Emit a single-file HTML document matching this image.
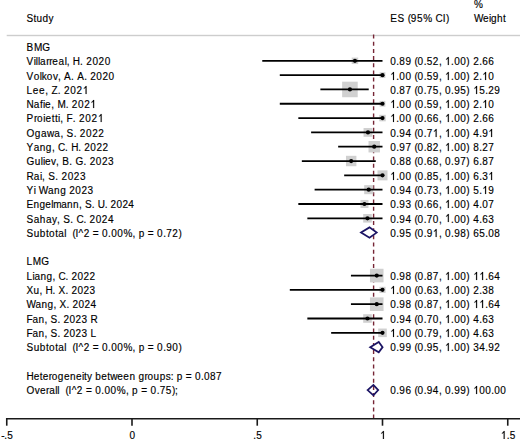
<!DOCTYPE html>
<html><head><meta charset="utf-8"><style>
html,body{margin:0;padding:0;background:#fff;}
svg{display:block;}
.t{font-family:"Liberation Sans",sans-serif;font-size:10.0px;fill:#000;white-space:pre;stroke:#000;stroke-width:0.15px;}
</style></head><body>
<svg width="520" height="439" viewBox="0 0 520 439">
<rect width="520" height="439" fill="#fff"/>
<text class="t" x="26.6 33.6 36.6 42.6 48.6" y="22.2">Study</text>
<text class="t" x="390.2 397.42 404.65 407.74 410.84 417.03 423.22 432.51 435.61 442.83 445.93" y="22.2">ES (95% CI)</text>
<text class="t" x="474.1" y="8.1">%</text>
<text class="t" x="474.1 483.1 489.1 491.1 497.1 503.1" y="22.2">Weight</text>
<rect x="6.7" y="34.8" width="514" height="1.4" fill="#cdcdcd"/>
<line x1="373.6" y1="34.6" x2="373.6" y2="418.5" stroke="#762535" stroke-width="1.4" stroke-dasharray="4 3.17"/>
<rect x="351.70" y="57.57" width="6.49" height="6.49" fill="#d0d0d0"/>
<rect x="379.62" y="72.25" width="5.77" height="5.77" fill="#d0d0d0"/>
<rect x="342.15" y="81.67" width="15.56" height="15.56" fill="#d0d0d0"/>
<rect x="379.62" y="100.88" width="5.77" height="5.77" fill="#d0d0d0"/>
<rect x="379.25" y="114.83" width="6.49" height="6.49" fill="#d0d0d0"/>
<rect x="363.56" y="127.99" width="8.82" height="8.82" fill="#d0d0d0"/>
<rect x="368.51" y="140.99" width="11.45" height="11.45" fill="#d0d0d0"/>
<rect x="345.97" y="155.81" width="10.43" height="10.43" fill="#d0d0d0"/>
<rect x="377.50" y="170.35" width="10.00" height="10.00" fill="#d0d0d0"/>
<rect x="364.19" y="185.13" width="9.07" height="9.07" fill="#d0d0d0"/>
<rect x="360.45" y="199.96" width="8.03" height="8.03" fill="#d0d0d0"/>
<rect x="363.19" y="214.01" width="8.56" height="8.56" fill="#d0d0d0"/>
<rect x="369.95" y="268.77" width="13.58" height="13.58" fill="#d0d0d0"/>
<rect x="379.43" y="286.80" width="6.14" height="6.14" fill="#d0d0d0"/>
<rect x="369.95" y="297.40" width="13.58" height="13.58" fill="#d0d0d0"/>
<rect x="363.19" y="314.22" width="8.56" height="8.56" fill="#d0d0d0"/>
<rect x="378.22" y="328.54" width="8.56" height="8.56" fill="#d0d0d0"/>
<line x1="262.26" y1="60.82" x2="382.50" y2="60.82" stroke="#000" stroke-width="1.8"/>
<circle cx="354.94" cy="60.82" r="2.1" fill="#000"/>
<line x1="279.79" y1="75.13" x2="382.50" y2="75.13" stroke="#000" stroke-width="1.8"/>
<circle cx="382.50" cy="75.13" r="2.1" fill="#000"/>
<line x1="320.38" y1="89.45" x2="368.72" y2="89.45" stroke="#000" stroke-width="1.8"/>
<circle cx="349.94" cy="89.45" r="2.1" fill="#000"/>
<line x1="279.79" y1="103.76" x2="382.50" y2="103.76" stroke="#000" stroke-width="1.8"/>
<circle cx="382.50" cy="103.76" r="2.1" fill="#000"/>
<line x1="298.33" y1="118.08" x2="382.50" y2="118.08" stroke="#000" stroke-width="1.8"/>
<circle cx="382.50" cy="118.08" r="2.1" fill="#000"/>
<line x1="311.11" y1="132.40" x2="382.50" y2="132.40" stroke="#000" stroke-width="1.8"/>
<circle cx="367.97" cy="132.40" r="2.1" fill="#000"/>
<line x1="338.16" y1="146.71" x2="382.50" y2="146.71" stroke="#000" stroke-width="1.8"/>
<circle cx="374.23" cy="146.71" r="2.1" fill="#000"/>
<line x1="301.84" y1="161.03" x2="375.74" y2="161.03" stroke="#000" stroke-width="1.8"/>
<circle cx="351.19" cy="161.03" r="2.1" fill="#000"/>
<line x1="344.17" y1="175.34" x2="382.50" y2="175.34" stroke="#000" stroke-width="1.8"/>
<circle cx="382.50" cy="175.34" r="2.1" fill="#000"/>
<line x1="314.61" y1="189.66" x2="382.50" y2="189.66" stroke="#000" stroke-width="1.8"/>
<circle cx="368.72" cy="189.66" r="2.1" fill="#000"/>
<line x1="298.33" y1="203.98" x2="382.50" y2="203.98" stroke="#000" stroke-width="1.8"/>
<circle cx="364.46" cy="203.98" r="2.1" fill="#000"/>
<line x1="307.35" y1="218.29" x2="382.50" y2="218.29" stroke="#000" stroke-width="1.8"/>
<circle cx="367.47" cy="218.29" r="2.1" fill="#000"/>
<line x1="350.94" y1="275.56" x2="382.50" y2="275.56" stroke="#000" stroke-width="1.8"/>
<circle cx="376.74" cy="275.56" r="2.1" fill="#000"/>
<line x1="289.81" y1="289.87" x2="382.50" y2="289.87" stroke="#000" stroke-width="1.8"/>
<circle cx="382.50" cy="289.87" r="2.1" fill="#000"/>
<line x1="350.94" y1="304.19" x2="382.50" y2="304.19" stroke="#000" stroke-width="1.8"/>
<circle cx="376.74" cy="304.19" r="2.1" fill="#000"/>
<line x1="307.35" y1="318.50" x2="382.50" y2="318.50" stroke="#000" stroke-width="1.8"/>
<circle cx="367.47" cy="318.50" r="2.1" fill="#000"/>
<line x1="331.15" y1="332.82" x2="382.50" y2="332.82" stroke="#000" stroke-width="1.8"/>
<circle cx="382.50" cy="332.82" r="2.1" fill="#000"/>
<path d="M361.00 232.61 L369.50 227.41 L376.70 232.61 L369.50 237.81 Z" fill="#fff" stroke="#1b1464" stroke-width="1.75"/>
<path d="M370.20 347.14 L378.75 341.94 L382.60 347.14 L378.75 352.34 Z" fill="#fff" stroke="#1b1464" stroke-width="1.75"/>
<path d="M367.60 390.08 L373.40 384.88 L378.20 390.08 L373.40 395.28 Z" fill="none" stroke="#1b1464" stroke-width="1.75"/>
<text class="t" x="26.6 33.88 42.2" y="50.9">BMG</text>
<text class="t" x="26.6 32.84 41.16" y="265.4">LMG</text>
<text class="t" x="26.6 33.66 39.7 42.73 48.78 51.8 57.85 63.9 69.94 75.99 82.04 84.06 87.08 92.12 95.14 101.19 107.24 110.26 117.32 123.37 129.42 135.46 138.49 144.54 147.56 153.61 159.66 165.7 170.74 173.77 176.79 182.84 185.86 191.91 194.94 200.98 204.01 210.06 216.1" y="379.8">Heterogeneity between groups: p = 0.087</text>
<text class="t" x="26.6 33.8 35.85 37.91 39.96 46.13 49.22 52.3 58.47 64.64 66.69 69.78 72.86 80.06 83.14 86.22 92.39 98.56 104.73" y="65.2">Villarreal, H. 2020</text>
<text class="t" x="390.2 396.29 399.33 405.42 411.51 414.56 417.6 423.69 426.74 432.83 438.92 441.96 445.01 451.1 454.14 460.23 466.32" y="65.2">0.89 (0.52,  .00)</text>
<text class="t" x="473.3 479.3 482.3 488.3" y="65.2">2.66</text>
<text class="t" x="26.6 33.68 39.74 41.76 46.82 52.89 57.94 60.97 64.01 71.08 74.12 77.15 84.23 87.26 90.29 96.36 102.42 108.49" y="79.5">Volkov, A. A. 2020</text>
<text class="t" x="390.2 396.29 399.33 405.42 411.51 414.56 417.6 423.69 426.74 432.83 438.92 441.96 445.01 451.1 454.14 460.23 466.32" y="79.5"> .00 (0.59,  .00)</text>
<text class="t" x="473.3 479.3 482.3 488.3" y="79.5">2. 0</text>
<text class="t" x="26.6 32.84 39.08 45.32 48.44 51.56 57.8 60.92 64.04 70.28 76.52 82.76" y="93.8">Lee, Z. 202 </text>
<text class="t" x="390.2 396.29 399.33 405.42 411.51 414.56 417.6 423.69 426.74 432.83 438.92 441.96 445.01 451.1 454.14 460.23 466.32" y="93.8">0.87 (0.75, 0.95)</text>
<text class="t" x="473.3 479.3 485.3 488.3 494.3" y="93.8"> 5.29</text>
<text class="t" x="26.6 33.8 39.96 43.05 45.1 51.27 54.36 57.44 65.66 68.75 71.83 78.0 84.17 90.34" y="108.1">Nafie, M. 202 </text>
<text class="t" x="390.2 396.29 399.33 405.42 411.51 414.56 417.6 423.69 426.74 432.83 438.92 441.96 445.01 451.1 454.14 460.23 466.32" y="108.1"> .00 (0.59,  .00)</text>
<text class="t" x="473.3 479.3 482.3 488.3" y="108.1">2. 0</text>
<text class="t" x="26.6 33.94 37.08 43.37 45.46 51.75 54.9 58.04 60.14 63.28 66.42 72.71 75.86 79.0 85.29 91.58 97.86" y="122.4">Proietti, F. 202 </text>
<text class="t" x="390.2 396.29 399.33 405.42 411.51 414.56 417.6 423.69 426.74 432.83 438.92 441.96 445.01 451.1 454.14 460.23 466.32" y="122.4"> .00 (0.66,  .00)</text>
<text class="t" x="473.3 479.3 482.3 488.3" y="122.4">2.66</text>
<text class="t" x="26.6 34.79 40.94 47.08 54.25 60.39 63.46 66.54 73.7 76.78 79.85 85.99 92.14 98.28" y="136.7">Ogawa, S. 2022</text>
<text class="t" x="390.2 396.29 399.33 405.42 411.51 414.56 417.6 423.69 426.74 432.83 438.92 441.96 445.01 451.1 454.14 460.23 466.32" y="136.7">0.94 (0.7 ,  .00)</text>
<text class="t" x="473.3 479.3 482.3 488.3" y="136.7">4.9 </text>
<text class="t" x="26.6 33.68 39.76 45.83 51.9 54.94 57.97 65.06 68.09 71.13 78.21 81.25 84.28 90.36 96.43 102.5" y="151.0">Yang, C. H. 2022</text>
<text class="t" x="390.2 396.29 399.33 405.42 411.51 414.56 417.6 423.69 426.74 432.83 438.92 441.96 445.01 451.1 454.14 460.23 466.32" y="151.0">0.97 (0.82,  .00)</text>
<text class="t" x="473.3 479.3 482.3 488.3" y="151.0">8.27</text>
<text class="t" x="26.6 34.74 40.85 42.89 44.92 51.03 56.12 59.18 62.23 69.36 72.41 75.46 83.61 86.66 89.72 95.82 101.93 108.04" y="165.3">Guliev, B. G. 2023</text>
<text class="t" x="390.2 396.29 399.33 405.42 411.51 414.56 417.6 423.69 426.74 432.83 438.92 441.96 445.01 451.1 454.14 460.23 466.32" y="165.3">0.88 (0.68, 0.97)</text>
<text class="t" x="473.3 479.3 482.3 488.3" y="165.3">6.87</text>
<text class="t" x="26.6 33.78 39.94 41.99 45.07 48.15 55.33 58.41 61.48 67.64 73.8 79.95" y="179.6">Rai, S. 2023</text>
<text class="t" x="390.2 396.29 399.33 405.42 411.51 414.56 417.6 423.69 426.74 432.83 438.92 441.96 445.01 451.1 454.14 460.23 466.32" y="179.6"> .00 (0.85,  .00)</text>
<text class="t" x="473.3 479.3 482.3 488.3" y="179.6">6.3 </text>
<text class="t" x="26.6 33.71 35.74 38.79 47.94 54.03 60.13 66.22 69.27 75.37 81.46 87.56" y="193.9">Yi Wang 2023</text>
<text class="t" x="390.2 396.29 399.33 405.42 411.51 414.56 417.6 423.69 426.74 432.83 438.92 441.96 445.01 451.1 454.14 460.23 466.32" y="193.9">0.94 (0.73,  .00)</text>
<text class="t" x="473.3 479.3 482.3 488.3" y="193.9">5. 9</text>
<text class="t" x="26.6 33.52 39.44 45.37 51.3 53.28 61.18 67.11 73.04 78.96 81.93 84.89 91.81 94.77 97.74 104.65 107.62 110.58 116.51 122.44 128.36" y="208.2">Engelmann, S. U. 2024</text>
<text class="t" x="390.2 396.29 399.33 405.42 411.51 414.56 417.6 423.69 426.74 432.83 438.92 441.96 445.01 451.1 454.14 460.23 466.32" y="208.2">0.93 (0.66,  .00)</text>
<text class="t" x="473.3 479.3 482.3 488.3" y="208.2">4.07</text>
<text class="t" x="26.6 33.71 39.81 45.9 52.0 57.08 60.13 63.18 70.29 73.34 76.38 83.5 86.54 89.59 95.69 101.78 107.88" y="222.5">Sahay, S. C. 2024</text>
<text class="t" x="390.2 396.29 399.33 405.42 411.51 414.56 417.6 423.69 426.74 432.83 438.92 441.96 445.01 451.1 454.14 460.23 466.32" y="222.5">0.94 (0.70,  .00)</text>
<text class="t" x="473.3 479.3 482.3 488.3" y="222.5">4.63</text>
<text class="t" x="26.6 32.6 34.6 40.6 46.6 52.6 55.6 58.6 65.6 68.6 71.6 77.6 83.6 89.6" y="279.7">Liang, C. 2022</text>
<text class="t" x="390.2 396.29 399.33 405.42 411.51 414.56 417.6 423.69 426.74 432.83 438.92 441.96 445.01 451.1 454.14 460.23 466.32" y="279.7">0.98 (0.87,  .00)</text>
<text class="t" x="473.3 479.3 485.3 488.3 494.3" y="279.7">  .64</text>
<text class="t" x="26.6 33.6 39.6 42.6 45.6 52.6 55.6 58.6 65.6 68.6 71.6 77.6 83.6 89.6" y="294.0">Xu, H. X. 2023</text>
<text class="t" x="390.2 396.29 399.33 405.42 411.51 414.56 417.6 423.69 426.74 432.83 438.92 441.96 445.01 451.1 454.14 460.23 466.32" y="294.0"> .00 (0.63,  .00)</text>
<text class="t" x="473.3 479.3 482.3 488.3" y="294.0">2.38</text>
<text class="t" x="26.6 35.6 41.6 47.6 53.6 56.6 59.6 66.6 69.6 72.6 78.6 84.6 90.6" y="308.3">Wang, X. 2024</text>
<text class="t" x="390.2 396.29 399.33 405.42 411.51 414.56 417.6 423.69 426.74 432.83 438.92 441.96 445.01 451.1 454.14 460.23 466.32" y="308.3">0.98 (0.87,  .00)</text>
<text class="t" x="473.3 479.3 485.3 488.3 494.3" y="308.3">  .64</text>
<text class="t" x="26.6 32.6 38.6 44.6 47.6 50.6 57.6 60.6 63.6 69.6 75.6 81.6 87.6 90.6" y="322.6">Fan, S. 2023 R</text>
<text class="t" x="390.2 396.29 399.33 405.42 411.51 414.56 417.6 423.69 426.74 432.83 438.92 441.96 445.01 451.1 454.14 460.23 466.32" y="322.6">0.94 (0.70,  .00)</text>
<text class="t" x="473.3 479.3 482.3 488.3" y="322.6">4.63</text>
<text class="t" x="26.6 32.6 38.6 44.6 47.6 50.6 57.6 60.6 63.6 69.6 75.6 81.6 87.6 90.6" y="336.9">Fan, S. 2023 L</text>
<text class="t" x="390.2 396.29 399.33 405.42 411.51 414.56 417.6 423.69 426.74 432.83 438.92 441.96 445.01 451.1 454.14 460.23 466.32" y="336.9"> .00 (0.79,  .00)</text>
<text class="t" x="473.3 479.3 482.3 488.3" y="336.9">4.63</text>
<text class="t" x="26.6 33.73 39.85 45.96 49.02 55.13 58.19 64.3 66.34 69.4 72.45 75.51 78.57 83.66 89.78 92.84 98.95 102.01 108.12 111.18 117.29 123.41 132.58 135.63 138.69 144.8 147.86 153.97 157.03 163.15 166.2 172.32 178.43" y="236.8">Subtotal  (I^2 = 0.00%, p = 0.72)</text>
<text class="t" x="390.2 396.29 399.33 405.42 411.51 414.56 417.6 423.69 426.74 432.83 438.92 441.96 445.01 451.1 454.14 460.23 466.32" y="236.8">0.95 (0.9 , 0.98)</text>
<text class="t" x="473.3 479.3 485.3 488.3 494.3" y="236.8">65.08</text>
<text class="t" x="26.6 33.73 39.85 45.96 49.02 55.13 58.19 64.3 66.34 69.4 72.45 75.51 78.57 83.66 89.78 92.84 98.95 102.01 108.12 111.18 117.29 123.41 132.58 135.63 138.69 144.8 147.86 153.97 157.03 163.15 166.2 172.32 178.43" y="351.2">Subtotal  (I^2 = 0.00%, p = 0.90)</text>
<text class="t" x="390.2 396.29 399.33 405.42 411.51 414.56 417.6 423.69 426.74 432.83 438.92 441.96 445.01 451.1 454.14 460.23 466.32" y="351.2">0.99 (0.95,  .00)</text>
<text class="t" x="473.3 479.3 485.3 488.3 494.3" y="351.2">34.92</text>
<text class="t" x="26.6 34.79 39.91 46.06 49.13 55.27 57.32 59.37 62.44 65.51 68.58 71.66 76.78 82.92 85.99 92.14 95.21 101.35 104.42 110.57 116.71 125.93 129.0 132.07 138.22 141.29 147.43 150.5 156.65 159.72 165.86 172.01 175.08" y="394.1">Overall  (I^2 = 0.00%, p = 0.75);</text>
<text class="t" x="390.2 396.29 399.33 405.42 411.51 414.56 417.6 423.69 426.74 432.83 438.92 441.96 445.01 451.1 454.14 460.23 466.32" y="394.1">0.96 (0.94, 0.99)</text>
<text class="t" x="473.3 479.3 485.3 491.3 494.3 500.3" y="394.1"> 00.00</text>
<line x1="6" y1="418.7" x2="520" y2="418.7" stroke="#1a1a1a" stroke-width="1.6"/>
<line x1="6.75" y1="418" x2="6.75" y2="425.7" stroke="#1a1a1a" stroke-width="1.6"/>
<text class="t" x="1.35 4.35 7.35" y="438.6">-.5</text>
<line x1="132.00" y1="418" x2="132.00" y2="425.7" stroke="#1a1a1a" stroke-width="1.6"/>
<text class="t" x="129.6" y="438.6">0</text>
<line x1="257.25" y1="418" x2="257.25" y2="425.7" stroke="#1a1a1a" stroke-width="1.6"/>
<text class="t" x="253.35 256.35" y="438.6">.5</text>
<line x1="382.50" y1="418" x2="382.50" y2="425.7" stroke="#1a1a1a" stroke-width="1.6"/>
<text class="t" x="380.1" y="438.6"> </text>
<line x1="507.75" y1="418" x2="507.75" y2="425.7" stroke="#1a1a1a" stroke-width="1.6"/>
<text class="t" x="500.85 506.85 509.85" y="438.6"> .5</text>
<g fill="#000" stroke="#000" stroke-width="0.15"><path transform="translate(445.01 65)" d="M3.78 0L2.82 0L2.82 -6.25Q2.2 -5.62 1.09 -5.14L1.09 -6.09Q2.34 -6.7 2.94 -8L3.78 -8Z"/><path transform="translate(390.2 80)" d="M3.78 0L2.82 0L2.82 -6.25Q2.2 -5.62 1.09 -5.14L1.09 -6.09Q2.34 -6.7 2.94 -8L3.78 -8Z"/><path transform="translate(445.01 80)" d="M3.78 0L2.82 0L2.82 -6.25Q2.2 -5.62 1.09 -5.14L1.09 -6.09Q2.34 -6.7 2.94 -8L3.78 -8Z"/><path transform="translate(482.3 80)" d="M3.78 0L2.82 0L2.82 -6.25Q2.2 -5.62 1.09 -5.14L1.09 -6.09Q2.34 -6.7 2.94 -8L3.78 -8Z"/><path transform="translate(82.76 94)" d="M3.78 0L2.82 0L2.82 -6.25Q2.2 -5.62 1.09 -5.14L1.09 -6.09Q2.34 -6.7 2.94 -8L3.78 -8Z"/><path transform="translate(473.3 94)" d="M3.78 0L2.82 0L2.82 -6.25Q2.2 -5.62 1.09 -5.14L1.09 -6.09Q2.34 -6.7 2.94 -8L3.78 -8Z"/><path transform="translate(90.34 108)" d="M3.78 0L2.82 0L2.82 -6.25Q2.2 -5.62 1.09 -5.14L1.09 -6.09Q2.34 -6.7 2.94 -8L3.78 -8Z"/><path transform="translate(390.2 108)" d="M3.78 0L2.82 0L2.82 -6.25Q2.2 -5.62 1.09 -5.14L1.09 -6.09Q2.34 -6.7 2.94 -8L3.78 -8Z"/><path transform="translate(445.01 108)" d="M3.78 0L2.82 0L2.82 -6.25Q2.2 -5.62 1.09 -5.14L1.09 -6.09Q2.34 -6.7 2.94 -8L3.78 -8Z"/><path transform="translate(482.3 108)" d="M3.78 0L2.82 0L2.82 -6.25Q2.2 -5.62 1.09 -5.14L1.09 -6.09Q2.34 -6.7 2.94 -8L3.78 -8Z"/><path transform="translate(97.86 122)" d="M3.78 0L2.82 0L2.82 -6.25Q2.2 -5.62 1.09 -5.14L1.09 -6.09Q2.34 -6.7 2.94 -8L3.78 -8Z"/><path transform="translate(390.2 122)" d="M3.78 0L2.82 0L2.82 -6.25Q2.2 -5.62 1.09 -5.14L1.09 -6.09Q2.34 -6.7 2.94 -8L3.78 -8Z"/><path transform="translate(445.01 122)" d="M3.78 0L2.82 0L2.82 -6.25Q2.2 -5.62 1.09 -5.14L1.09 -6.09Q2.34 -6.7 2.94 -8L3.78 -8Z"/><path transform="translate(432.83 137)" d="M3.78 0L2.82 0L2.82 -6.25Q2.2 -5.62 1.09 -5.14L1.09 -6.09Q2.34 -6.7 2.94 -8L3.78 -8Z"/><path transform="translate(445.01 137)" d="M3.78 0L2.82 0L2.82 -6.25Q2.2 -5.62 1.09 -5.14L1.09 -6.09Q2.34 -6.7 2.94 -8L3.78 -8Z"/><path transform="translate(488.3 137)" d="M3.78 0L2.82 0L2.82 -6.25Q2.2 -5.62 1.09 -5.14L1.09 -6.09Q2.34 -6.7 2.94 -8L3.78 -8Z"/><path transform="translate(445.01 151)" d="M3.78 0L2.82 0L2.82 -6.25Q2.2 -5.62 1.09 -5.14L1.09 -6.09Q2.34 -6.7 2.94 -8L3.78 -8Z"/><path transform="translate(390.2 180)" d="M3.78 0L2.82 0L2.82 -6.25Q2.2 -5.62 1.09 -5.14L1.09 -6.09Q2.34 -6.7 2.94 -8L3.78 -8Z"/><path transform="translate(445.01 180)" d="M3.78 0L2.82 0L2.82 -6.25Q2.2 -5.62 1.09 -5.14L1.09 -6.09Q2.34 -6.7 2.94 -8L3.78 -8Z"/><path transform="translate(488.3 180)" d="M3.78 0L2.82 0L2.82 -6.25Q2.2 -5.62 1.09 -5.14L1.09 -6.09Q2.34 -6.7 2.94 -8L3.78 -8Z"/><path transform="translate(445.01 194)" d="M3.78 0L2.82 0L2.82 -6.25Q2.2 -5.62 1.09 -5.14L1.09 -6.09Q2.34 -6.7 2.94 -8L3.78 -8Z"/><path transform="translate(482.3 194)" d="M3.78 0L2.82 0L2.82 -6.25Q2.2 -5.62 1.09 -5.14L1.09 -6.09Q2.34 -6.7 2.94 -8L3.78 -8Z"/><path transform="translate(445.01 208)" d="M3.78 0L2.82 0L2.82 -6.25Q2.2 -5.62 1.09 -5.14L1.09 -6.09Q2.34 -6.7 2.94 -8L3.78 -8Z"/><path transform="translate(445.01 222)" d="M3.78 0L2.82 0L2.82 -6.25Q2.2 -5.62 1.09 -5.14L1.09 -6.09Q2.34 -6.7 2.94 -8L3.78 -8Z"/><path transform="translate(445.01 280)" d="M3.78 0L2.82 0L2.82 -6.25Q2.2 -5.62 1.09 -5.14L1.09 -6.09Q2.34 -6.7 2.94 -8L3.78 -8Z"/><path transform="translate(473.3 280)" d="M3.78 0L2.82 0L2.82 -6.25Q2.2 -5.62 1.09 -5.14L1.09 -6.09Q2.34 -6.7 2.94 -8L3.78 -8Z"/><path transform="translate(479.3 280)" d="M3.78 0L2.82 0L2.82 -6.25Q2.2 -5.62 1.09 -5.14L1.09 -6.09Q2.34 -6.7 2.94 -8L3.78 -8Z"/><path transform="translate(390.2 294)" d="M3.78 0L2.82 0L2.82 -6.25Q2.2 -5.62 1.09 -5.14L1.09 -6.09Q2.34 -6.7 2.94 -8L3.78 -8Z"/><path transform="translate(445.01 294)" d="M3.78 0L2.82 0L2.82 -6.25Q2.2 -5.62 1.09 -5.14L1.09 -6.09Q2.34 -6.7 2.94 -8L3.78 -8Z"/><path transform="translate(445.01 308)" d="M3.78 0L2.82 0L2.82 -6.25Q2.2 -5.62 1.09 -5.14L1.09 -6.09Q2.34 -6.7 2.94 -8L3.78 -8Z"/><path transform="translate(473.3 308)" d="M3.78 0L2.82 0L2.82 -6.25Q2.2 -5.62 1.09 -5.14L1.09 -6.09Q2.34 -6.7 2.94 -8L3.78 -8Z"/><path transform="translate(479.3 308)" d="M3.78 0L2.82 0L2.82 -6.25Q2.2 -5.62 1.09 -5.14L1.09 -6.09Q2.34 -6.7 2.94 -8L3.78 -8Z"/><path transform="translate(445.01 323)" d="M3.78 0L2.82 0L2.82 -6.25Q2.2 -5.62 1.09 -5.14L1.09 -6.09Q2.34 -6.7 2.94 -8L3.78 -8Z"/><path transform="translate(390.2 337)" d="M3.78 0L2.82 0L2.82 -6.25Q2.2 -5.62 1.09 -5.14L1.09 -6.09Q2.34 -6.7 2.94 -8L3.78 -8Z"/><path transform="translate(445.01 337)" d="M3.78 0L2.82 0L2.82 -6.25Q2.2 -5.62 1.09 -5.14L1.09 -6.09Q2.34 -6.7 2.94 -8L3.78 -8Z"/><path transform="translate(432.83 237)" d="M3.78 0L2.82 0L2.82 -6.25Q2.2 -5.62 1.09 -5.14L1.09 -6.09Q2.34 -6.7 2.94 -8L3.78 -8Z"/><path transform="translate(445.01 351)" d="M3.78 0L2.82 0L2.82 -6.25Q2.2 -5.62 1.09 -5.14L1.09 -6.09Q2.34 -6.7 2.94 -8L3.78 -8Z"/><path transform="translate(473.3 394)" d="M3.78 0L2.82 0L2.82 -6.25Q2.2 -5.62 1.09 -5.14L1.09 -6.09Q2.34 -6.7 2.94 -8L3.78 -8Z"/><path transform="translate(380.1 439)" d="M3.78 0L2.82 0L2.82 -6.25Q2.2 -5.62 1.09 -5.14L1.09 -6.09Q2.34 -6.7 2.94 -8L3.78 -8Z"/><path transform="translate(500.85 439)" d="M3.78 0L2.82 0L2.82 -6.25Q2.2 -5.62 1.09 -5.14L1.09 -6.09Q2.34 -6.7 2.94 -8L3.78 -8Z"/></g>
</svg>
</body></html>
